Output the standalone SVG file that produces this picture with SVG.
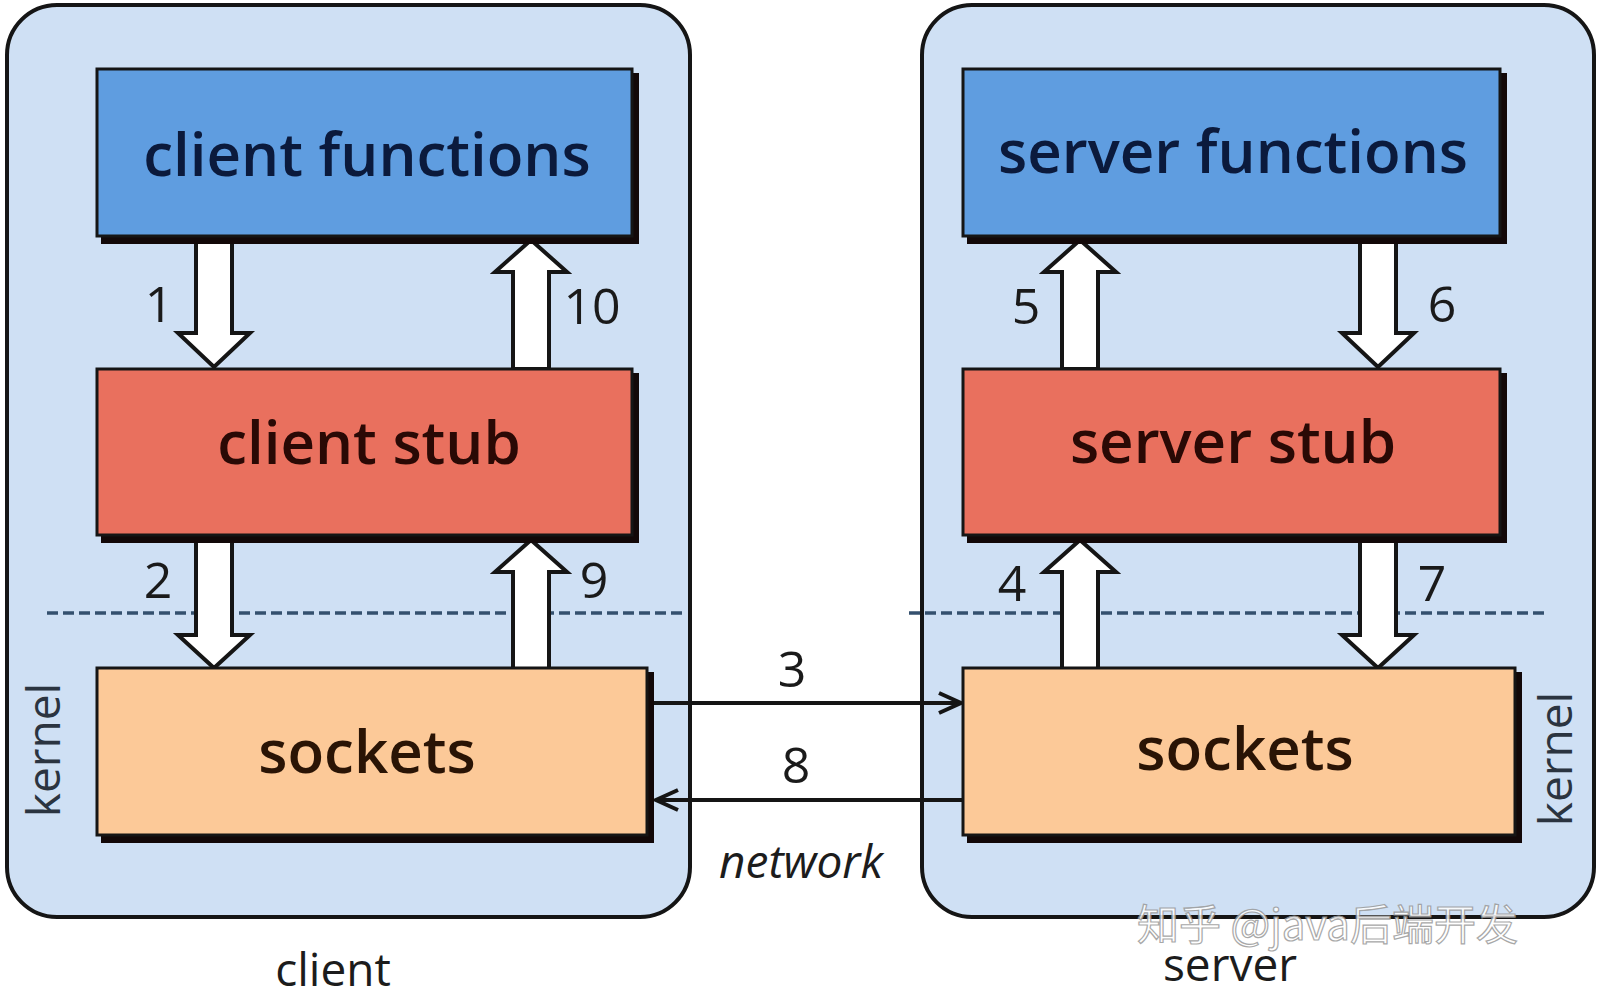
<svg xmlns="http://www.w3.org/2000/svg" width="1600" height="1005" viewBox="0 0 1600 1005">
<style>
.panel{fill:#cfe0f4;stroke:#151515;stroke-width:4}
.shadow{fill:#120808}
.box{stroke:#151515;stroke-width:3}
.blue{fill:#5f9de0}
.red{fill:#e9705e}
.peach{fill:#fcc998}
.lbl{font-family:"Open Sans","Noto Sans",sans-serif;font-size:60px;font-weight:600;text-anchor:middle}
.num{font-family:"Open Sans","Noto Sans",sans-serif;font-size:50px;fill:#1a1a1a;text-anchor:middle}
.side{font-family:"Open Sans","Noto Sans",sans-serif;font-size:46px;fill:#1c1c1c;text-anchor:middle}
.kern{font-family:"Open Sans","Noto Sans",sans-serif;font-size:46px;fill:#2b3440;text-anchor:middle}
.blk{fill:#ffffff;stroke:#151515;stroke-width:4;stroke-linejoin:miter}
.dash{stroke:#34506e;stroke-width:3.5;stroke-dasharray:11 5;fill:none}
.net{stroke:#151515;stroke-width:4;fill:none}
</style>
<defs>
<marker id="chev" markerUnits="userSpaceOnUse" markerWidth="30" markerHeight="30" refX="24" refY="12" orient="auto">
<path d="M2,2 L24,12 L2,22" fill="none" stroke="#151515" stroke-width="4"/>
</marker>
</defs>
<rect width="1600" height="1005" fill="#ffffff"/>

<g id="client-panel">
<rect class="panel" x="7" y="5" width="683" height="912" rx="50" ry="50"/>
</g>
<g id="server-panel">
<rect class="panel" x="922" y="5" width="672" height="912" rx="50" ry="50"/>
</g>

<g id="kernel-lines">
<line class="dash" x1="47" y1="613" x2="686" y2="613"/>
<line class="dash" x1="909" y1="613" x2="1549" y2="613"/>
</g>

<g id="connectors">
<polygon class="blk" points="196,240 232,240 232,333 250,333 214,367 178,333 196,333"/>
<polygon class="blk" points="196,540 232,540 232,635 250,635 214,668 178,635 196,635"/>
<polygon class="blk" points="531,240 567,272 549,272 549,369 513,369 513,272 495,272"/>
<polygon class="blk" points="531,540 567,572 549,572 549,669 513,669 513,572 495,572"/>
<polygon class="blk" points="1080,240 1116,272 1098,272 1098,369 1062,369 1062,272 1044,272"/>
<polygon class="blk" points="1080,540 1116,572 1098,572 1098,669 1062,669 1062,572 1044,572"/>
<polygon class="blk" points="1360,240 1396,240 1396,333 1414,333 1378,367 1342,333 1360,333"/>
<polygon class="blk" points="1360,540 1396,540 1396,635 1414,635 1378,668 1342,635 1360,635"/>
<line class="net" x1="654" y1="703" x2="961" y2="703" marker-end="url(#chev)"/>
<line class="net" x1="963" y1="800" x2="656" y2="800" marker-end="url(#chev)"/>
</g>

<g id="client-functions">
<rect class="shadow" x="101" y="73" width="538" height="171"/>
<rect class="box blue" x="97" y="69" width="535" height="167"/>
<text class="lbl" x="367" y="176" fill="#0b1a3c">client functions</text>
</g>
<g id="client-stub">
<rect class="shadow" x="101" y="373" width="538" height="170"/>
<rect class="box red" x="97" y="369" width="535" height="166"/>
<text class="lbl" x="369" y="464" fill="#2a0905">client stub</text>
</g>
<g id="client-sockets">
<rect class="shadow" x="101" y="672" width="553" height="171"/>
<rect class="box peach" x="97" y="668" width="550" height="167"/>
<text class="lbl" x="367" y="773" fill="#2a1405">sockets</text>
</g>
<g id="server-functions">
<rect class="shadow" x="967" y="73" width="540" height="171"/>
<rect class="box blue" x="963" y="69" width="537" height="167"/>
<text class="lbl" x="1233" y="173" fill="#0b1a3c">server functions</text>
</g>
<g id="server-stub">
<rect class="shadow" x="967" y="373" width="540" height="170"/>
<rect class="box red" x="963" y="369" width="537" height="166"/>
<text class="lbl" x="1233" y="463" fill="#2a0905">server stub</text>
</g>
<g id="server-sockets">
<rect class="shadow" x="967" y="672" width="555" height="171"/>
<rect class="box peach" x="963" y="668" width="552" height="167"/>
<text class="lbl" x="1245" y="770" fill="#2a1405">sockets</text>
</g>

<g id="labels">
<text class="num" x="159" y="322">1</text>
<text class="num" x="592" y="324">10</text>
<text class="num" x="158" y="598">2</text>
<text class="num" x="594" y="598">9</text>
<text class="num" x="1026" y="324">5</text>
<text class="num" x="1442" y="322">6</text>
<text class="num" x="1012" y="601">4</text>
<text class="num" x="1432" y="601">7</text>
<text class="num" x="792" y="687">3</text>
<text class="num" x="796" y="783">8</text>
<text class="side" x="801" y="878" font-style="italic" font-size="48">network</text>
<text class="side" x="333" y="986">client</text>
<text class="side" x="1230" y="981">server</text>
<text x="1137" y="940" font-family="'Noto Sans CJK SC','Open Sans',sans-serif" font-size="42" fill="#ffffff" stroke="#9a9a9a" stroke-width="1.2" opacity="0.85">知乎 @java后端开发</text>
<text class="kern" transform="translate(60,750) rotate(-90)">kernel</text>
<text class="kern" transform="translate(1572,759) rotate(-90)">kernel</text>
</g>
</svg>
